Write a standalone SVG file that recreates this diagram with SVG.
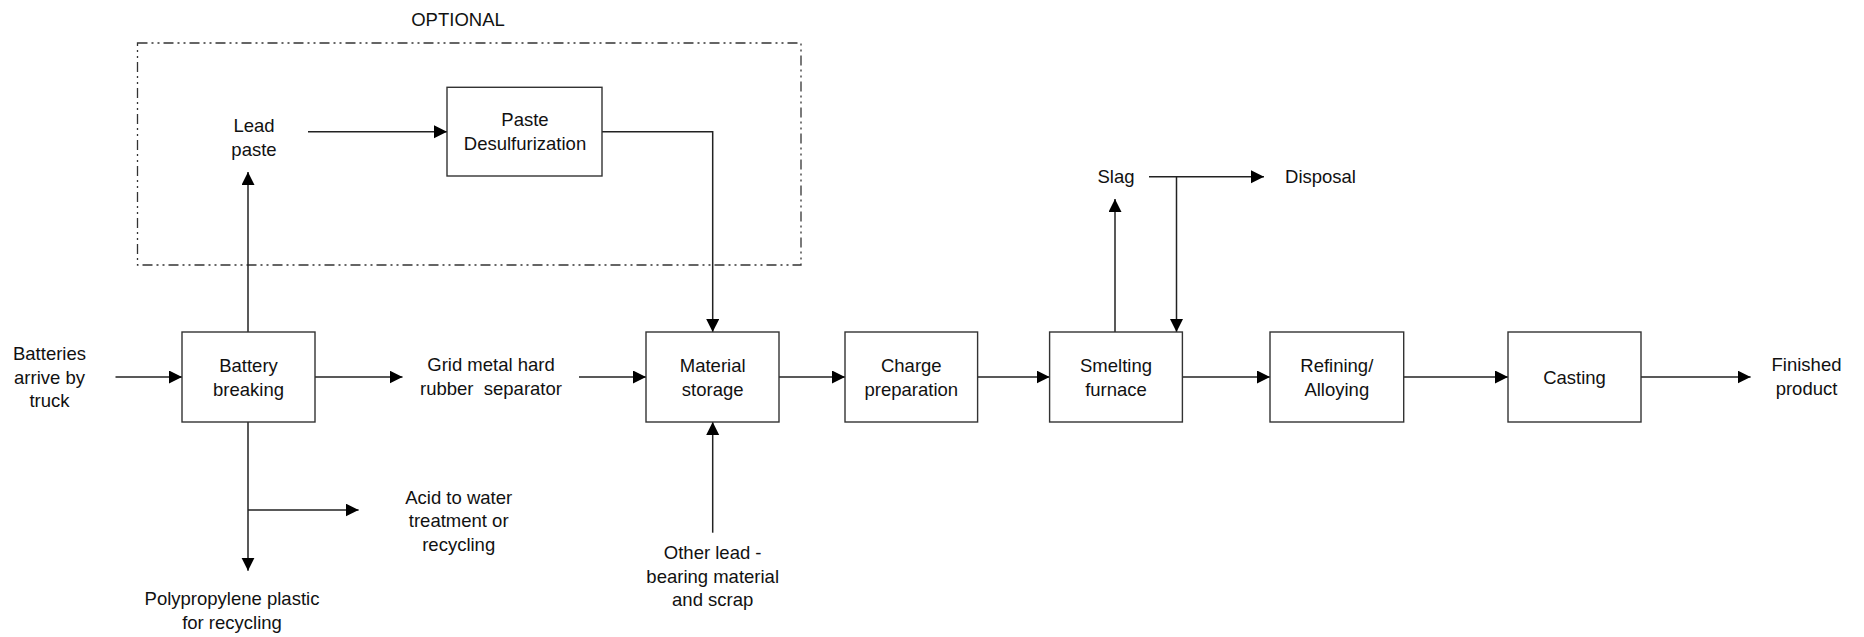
<svg xmlns="http://www.w3.org/2000/svg" width="1864" height="637" viewBox="0 0 1864 637">
<style>
.box{fill:#fff;stroke:#333;stroke-width:1.4}
.ln{fill:none;stroke:#222;stroke-width:1.5}
.opt{fill:none;stroke:#333;stroke-width:1.3;stroke-dasharray:10 4 2 4 2 4}
text{font-family:"Liberation Sans",Arial,Helvetica,sans-serif;font-size:18.5px;fill:#111;text-anchor:middle}
</style>
<defs>
<marker id="ah" markerUnits="userSpaceOnUse" markerWidth="14" markerHeight="14" refX="13" refY="6.5" orient="auto">
<path d="M0,0 L13,6.5 L0,13 z" fill="#000"/>
</marker>
</defs>
<rect width="1864" height="637" fill="#fff"/>
<g id="optional">
<rect class="opt" x="137.5" y="43" width="663.5" height="222"/>
<text x="458" y="26">OPTIONAL</text>
</g>
<g id="connectors">
<path class="ln" d="M115.5,377 H182" marker-end="url(#ah)"/>
<path class="ln" d="M315,377 H402.5" marker-end="url(#ah)"/>
<path class="ln" d="M579,377 H646" marker-end="url(#ah)"/>
<path class="ln" d="M779,377 H845" marker-end="url(#ah)"/>
<path class="ln" d="M977.6,377 H1049.6" marker-end="url(#ah)"/>
<path class="ln" d="M1182.4,377 H1270" marker-end="url(#ah)"/>
<path class="ln" d="M1403.7,377 H1508" marker-end="url(#ah)"/>
<path class="ln" d="M1641,377 H1750.6" marker-end="url(#ah)"/>
<path class="ln" d="M248,332 V172" marker-end="url(#ah)"/>
<path class="ln" d="M308,131.7 H447" marker-end="url(#ah)"/>
<path class="ln" d="M602,131.7 H712.7 V332" marker-end="url(#ah)"/>
<path class="ln" d="M248,422 V570.7" marker-end="url(#ah)"/>
<path class="ln" d="M248,510 H358.6" marker-end="url(#ah)"/>
<path class="ln" d="M712.7,532.7 V422" marker-end="url(#ah)"/>
<path class="ln" d="M1115,332 V199" marker-end="url(#ah)"/>
<path class="ln" d="M1149,176.7 H1264" marker-end="url(#ah)"/>
<path class="ln" d="M1176.5,176.7 V332" marker-end="url(#ah)"/>
</g>
<g id="batteries-arrive"><text x="49.5" y="360">Batteries</text><text x="49.5" y="383.5">arrive by</text><text x="49.5" y="407">truck</text></g>
<g id="battery-breaking"><rect class="box" x="182" y="332" width="133" height="90"/><text x="248.5" y="372">Battery</text><text x="248.5" y="395.5">breaking</text></g>
<g id="lead-paste"><text x="254" y="132">Lead</text><text x="254" y="155.5">paste</text></g>
<g id="paste-desulfurization"><rect class="box" x="447" y="87.3" width="155" height="88.7"/><text x="525" y="126">Paste</text><text x="525" y="149.5">Desulfurization</text></g>
<g id="grid-metal"><text x="491" y="371">Grid metal hard</text><text x="491" y="394.5" xml:space="preserve">rubber  separator</text></g>
<g id="acid"><text x="458.7" y="503.5">Acid to water</text><text x="458.7" y="527">treatment or</text><text x="458.7" y="550.5">recycling</text></g>
<g id="polypropylene"><text x="232" y="605">Polypropylene plastic</text><text x="232" y="628.5">for recycling</text></g>
<g id="material-storage"><rect class="box" x="646" y="332" width="133" height="90"/><text x="712.7" y="372">Material</text><text x="712.7" y="395.5">storage</text></g>
<g id="other-lead"><text x="712.7" y="559">Other lead -</text><text x="712.7" y="582.5">bearing material</text><text x="712.7" y="606">and scrap</text></g>
<g id="charge-preparation"><rect class="box" x="845" y="332" width="132.6" height="90"/><text x="911.3" y="372">Charge</text><text x="911.3" y="395.5">preparation</text></g>
<g id="smelting-furnace"><rect class="box" x="1049.6" y="332" width="132.8" height="90"/><text x="1116" y="372">Smelting</text><text x="1116" y="395.5">furnace</text></g>
<g id="slag"><text x="1116" y="183">Slag</text></g>
<g id="disposal"><text x="1320.5" y="183">Disposal</text></g>
<g id="refining-alloying"><rect class="box" x="1270" y="332" width="133.7" height="90"/><text x="1336.8" y="372">Refining/</text><text x="1336.8" y="395.5">Alloying</text></g>
<g id="casting"><rect class="box" x="1508" y="332" width="133" height="90"/><text x="1574.5" y="383.5">Casting</text></g>
<g id="finished-product"><text x="1806.5" y="371">Finished</text><text x="1806.5" y="394.5">product</text></g>
</svg>
